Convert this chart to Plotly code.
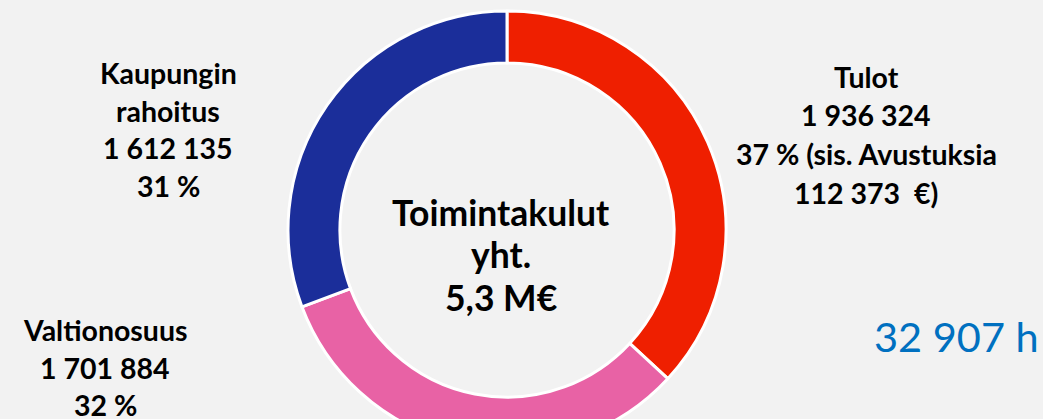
import plotly.graph_objects as go

# ---- data ----
categories = ["Tulot", "Valtionosuus", "Kaupungin rahoitus"]
values = [1936324, 1701884, 1612135]
avustukset = 112373
tunnit = 32907
colors = ["#EF1F00", "#E862A5", "#1B2E9A"]

W, H = 1043, 460  # taller than the window so the ring is cut at the bottom like the reference


def fmt(n):
    return f"{n:,}".replace(",", " ")


total = sum(values)
pct = [round(v / total * 100) for v in values]


def px(x):
    return x / W


def py(y):
    return 1 - y / H


cx, cy, r = 507, 230, 219

fig = go.Figure(
    go.Pie(
        values=values,
        labels=categories,
        sort=False,
        direction="clockwise",
        rotation=0,
        hole=0.763,
        marker=dict(colors=colors, line=dict(color="white", width=3)),
        textinfo="none",
        hoverinfo="label+value+percent",
        showlegend=False,
        domain=dict(x=[px(cx - r), px(cx + r)], y=[py(cy + r), py(cy - r)]),
    )
)

FONT = "Lato"
blocks = [
    # (center x, first line y, spacing, lines)
    (866, 77, 38.5, ["Tulot", fmt(values[0]), f"{pct[0]} % (sis. Avustuksia", f"{fmt(avustukset)}  €)"]),
    (105, 330, 37.5, ["Valtionosuus", fmt(values[1]), f"{pct[1]} %"]),
    (168, 73, 37.7, ["Kaupungin", "rahoitus", fmt(values[2]), f"{pct[2]} %"]),
]
ann = []
for bx, by, sp, lines in blocks:
    for i, t in enumerate(lines):
        ann.append(dict(x=px(bx), y=py(by + i * sp), xref="paper", yref="paper", text=f"<b>{t}</b>",
                        showarrow=False, xanchor="center", yanchor="middle",
                        font=dict(family=FONT, size=28.5, color="black", weight=800)))

center_lines = ["Toimintakulut", "yht.", f"{total / 1e6:.1f}".replace(".", ",") + " M€"]
for i, t in enumerate(center_lines):
    ann.append(dict(x=px(501), y=py(212 + i * 42.5), xref="paper", yref="paper", text=f"<b>{t}</b>",
                    showarrow=False, xanchor="center", yanchor="middle",
                    font=dict(family=FONT, size=35.5, color="black", weight=800)))

ann.append(dict(x=px(872), y=py(336), xref="paper", yref="paper", text=f"{fmt(tunnit)} h",
                showarrow=False, xanchor="left", yanchor="middle",
                font=dict(family=FONT, size=41.5, color="#0070C0")))

fig.update_layout(
    width=W, height=H,
    margin=dict(l=0, r=0, t=0, b=0),
    paper_bgcolor="#F2F2F2",
    plot_bgcolor="#F2F2F2",
    annotations=ann,
)

fig.write_html(
    "out.html",
    config={"displayModeBar": False},
    post_script="document.documentElement.style.overflow='hidden';document.body.style.margin='0';document.body.style.overflow='hidden';",
)
